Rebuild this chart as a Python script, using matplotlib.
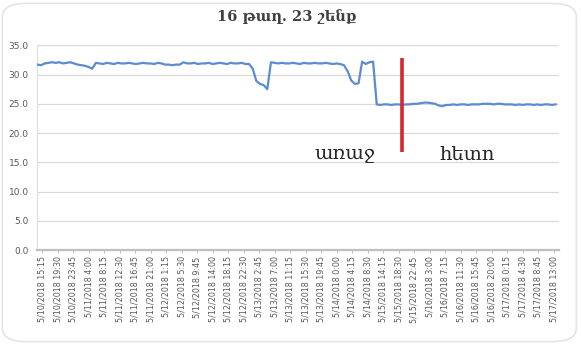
import matplotlib
matplotlib.use("Agg")
import matplotlib.pyplot as plt
from matplotlib.patches import FancyBboxPatch
import numpy as np

# Hourly temperature readings (every 4th quarter-hour sample)
readings = [
    31.7, 31.6, 31.9, 32.0, 32.1, 32.0, 32.1, 31.9, 32.0, 32.1,
    31.9, 31.7, 31.6, 31.5, 31.3, 31.0, 32.0, 31.9, 31.8, 32.0,
    31.9, 31.8, 32.0, 31.9, 31.9, 32.0, 31.9, 31.8, 31.9, 32.0,
    31.9, 31.9, 31.8, 32.0, 31.9, 31.7, 31.7, 31.6, 31.7, 31.7,
    32.1, 31.9, 31.9, 32.0, 31.8, 31.9, 31.9, 32.0, 31.8, 31.9,
    32.0, 31.9, 31.8, 32.0, 31.9, 31.9, 32.0, 31.8, 31.8, 31.0,
    28.9, 28.4, 28.2, 27.5, 32.1, 32.0, 31.9, 32.0, 31.9, 31.9,
    32.0, 31.9, 31.8, 32.0, 31.9, 31.9, 32.0, 31.9, 31.9, 32.0,
    31.9, 31.8, 31.9, 31.8, 31.6, 30.6, 29.0, 28.4, 28.5, 32.2,
    31.8, 32.1, 32.2, 24.9, 24.8, 24.9, 24.9, 24.8, 24.9, 24.9,
    24.8, 24.9, 24.9, 25.0, 25.0, 25.1, 25.2, 25.2, 25.1, 25.0,
    24.7, 24.6, 24.8, 24.8, 24.9, 24.8, 24.9, 24.9, 24.8, 24.9,
    24.9, 24.9, 25.0, 25.0, 25.0, 24.9, 25.0, 25.0, 24.9, 24.9,
    24.9, 24.8, 24.9, 24.8, 24.9, 24.9, 24.8, 24.9, 24.8, 24.9,
    24.9, 24.8, 24.9,
]
samples_per_reading = 4
total_samples = 572

tick_labels = [
    "5/10/2018 15:15", "5/10/2018 19:30", "5/10/2018 23:45",
    "5/11/2018 4:00", "5/11/2018 8:15", "5/11/2018 12:30",
    "5/11/2018 16:45", "5/11/2018 21:00", "5/12/2018 1:15",
    "5/12/2018 5:30", "5/12/2018 9:45", "5/12/2018 14:00",
    "5/12/2018 18:15", "5/12/2018 22:30", "5/13/2018 2:45",
    "5/13/2018 7:00", "5/13/2018 11:15", "5/13/2018 15:30",
    "5/13/2018 19:45", "5/14/2018 0:00", "5/14/2018 4:15",
    "5/14/2018 8:30", "5/15/2018 14:15", "5/15/2018 18:30",
    "5/15/2018 22:45", "5/16/2018 3:00", "5/16/2018 7:15",
    "5/16/2018 11:30", "5/16/2018 15:45", "5/16/2018 20:00",
    "5/17/2018 0:15", "5/17/2018 4:30", "5/17/2018 8:45",
    "5/17/2018 13:00",
]
first_tick = 5
tick_step = 17

y_ticks = [0, 5, 10, 15, 20, 25, 30, 35]

title = "16 թաղ. 23 շենք"
before_label = "առաջ"
after_label = "հետո"
marker_sample = 400
marker_range = (16.7, 32.8)

fig = plt.figure(figsize=(5.81, 3.45), dpi=100)
fig.patch.set_facecolor("white")

# card outline with rounded corners
card = FancyBboxPatch((0.004, 0.01), 0.988, 0.98,
                      boxstyle="round,pad=0,rounding_size=0.04",
                      transform=fig.transFigure, facecolor="none",
                      edgecolor="#e4e4e4", linewidth=1.2, zorder=0)
fig.patches.append(card)

ax = fig.add_axes([37 / 581, 95 / 345, (558.7 - 37) / 581, 204.7 / 345])

x = np.arange(len(readings)) * samples_per_reading
ax.plot(x, readings, color="#5b8bd0", linewidth=1.6, solid_joinstyle="round", zorder=3)

ax.vlines(marker_sample, marker_range[0], marker_range[1], color="#d7262f",
          linewidth=2.6, zorder=4)

ax.set_xlim(-0.5, total_samples - 0.5)
ax.set_ylim(0, 35)
ax.set_yticks(y_ticks)
ax.set_yticklabels([f"{v:.1f}" for v in y_ticks])
ax.grid(axis="y", color="#d9d9d9", linewidth=0.9)
ax.set_axisbelow(True)

tick_pos = [first_tick + tick_step * i for i in range(len(tick_labels))]
ax.set_xticks(tick_pos)
ax.set_xticklabels(tick_labels, rotation=90, va="top", ha="center")

for side in ("top", "right"):
    ax.spines[side].set_visible(False)
ax.spines["left"].set_color("#e0e0e0")
ax.spines["left"].set_linewidth(0.9)
ax.spines["bottom"].set_color("#bfbfbf")
ax.spines["bottom"].set_linewidth(1.6)

ax.tick_params(axis="y", length=0, pad=6, labelsize=6.5, labelcolor="#595959")
ax.tick_params(axis="x", length=2, width=0.8, color="#bfbfbf", pad=2.5,
               labelsize=5.8, labelcolor="#595959")

serif = ["DejaVu Serif"]
fig.text(287 / 581, 1 - 17 / 345, title, ha="center", va="center",
         fontsize=10.5, fontweight="bold", color="#404040", family=serif)
ax.text(337, 15.5, before_label, ha="center", va="baseline", fontsize=14,
        color="#262626", family=serif)
ax.text(471, 15.5, after_label, ha="center", va="baseline", fontsize=14,
        color="#262626", family=serif)

fig.savefig("out.png", dpi=100, facecolor="white")
